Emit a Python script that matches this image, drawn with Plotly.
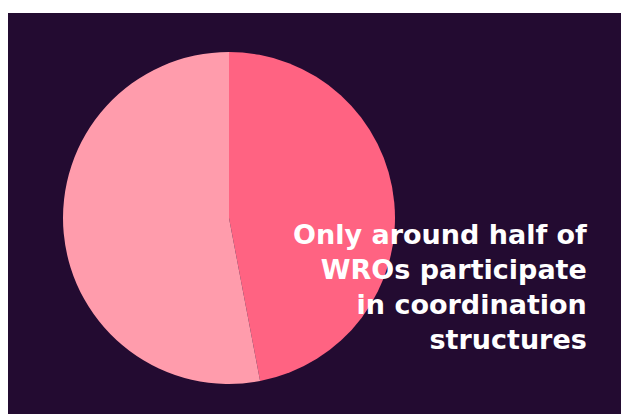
import plotly.graph_objects as go

# Share of WROs by participation in coordination structures
labels = ["Participate", "Do not participate"]
values = [47, 53]
colors = ["#ff6382", "#ff9cac"]

headline = ["Only around half of", "WROs participate", "in coordination", "structures"]

W, H = 621, 414
BG = "#230b31"

fig = go.Figure(
    go.Pie(
        labels=labels,
        values=values,
        sort=False,
        direction="clockwise",
        rotation=0,
        marker=dict(colors=colors, line=dict(width=0)),
        textinfo="none",
        hoverinfo="label+percent",
        showlegend=False,
        domain=dict(x=[63 / W, 395 / W], y=[(H - 384) / H, (H - 52) / H]),
    )
)

# Dark panel behind the chart, leaving a thin white edge at top and left
fig.add_shape(
    type="rect", xref="paper", yref="paper",
    x0=8 / W, x1=1, y0=0, y1=1 - 13 / H,
    fillcolor=BG, line=dict(width=0), layer="below",
)

fig.add_annotation(
    text="<br>".join(headline), xref="paper", yref="paper",
    x=589 / W, y=1 - 287 / H, xanchor="right", yanchor="middle",
    showarrow=False, align="right",
    font=dict(family="DejaVu Sans", size=27, color="#ffffff", weight="bold"),
)

fig.update_layout(
    width=W, height=H,
    margin=dict(l=0, r=0, t=0, b=0),
    paper_bgcolor="#ffffff",
    plot_bgcolor="#ffffff",
)

fig.write_html("out.html")
